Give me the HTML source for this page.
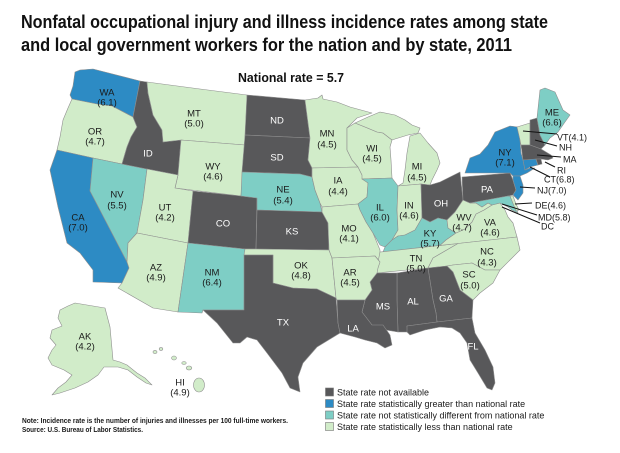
<!DOCTYPE html>
<html><head><meta charset="utf-8"><style>
html,body{margin:0;padding:0;background:#fff;}
svg{display:block;}
.t{font-family:"Liberation Sans",Arial,sans-serif;}
.lb{font-family:"Liberation Sans",Arial,sans-serif;font-size:9.5px;fill:#1a1a1a;text-anchor:middle;}
.lw{font-family:"Liberation Sans",Arial,sans-serif;font-size:9.5px;fill:#fff;text-anchor:middle;}
.co{font-family:"Liberation Sans",Arial,sans-serif;font-size:9px;fill:#1a1a1a;}
.D{fill:#58585a;}
.B{fill:#2d8bc4;}
.T{fill:#7ecec5;}
.L{fill:#d1ecc9;}
.st polygon,.st ellipse{stroke:#8f8f8f;stroke-width:0.6;stroke-linejoin:round;}
</style></head><body>
<svg width="620" height="453" viewBox="0 0 620 453" xmlns="http://www.w3.org/2000/svg">
<rect width="620" height="453" fill="#fff"/>
<text class="t" x="21" y="28" font-size="18" font-weight="bold" fill="#111" textLength="527" lengthAdjust="spacingAndGlyphs">Nonfatal occupational injury and illness incidence rates among state</text>
<text class="t" x="21" y="51" font-size="18" font-weight="bold" fill="#111" textLength="491" lengthAdjust="spacingAndGlyphs">and local government workers for the nation and by state, 2011</text>
<text class="t" x="238" y="82" font-size="13" font-weight="bold" fill="#111" textLength="106" lengthAdjust="spacingAndGlyphs">National rate = 5.7</text>

<g class="st">
<polygon class="B" points="75,72 80,70 93,69 140,81 133,117 112,106 97,104 72,99 70,95 73,86"/>
<polygon class="L" points="72,99 97,104 112,106 133,117 137,127 131,137 127,147 122,164 93,158 57,150 60,137 63,120 68,108"/>
<polygon class="B" points="57,150 93,158 90,191 127,262 129,268 122,283 93,282 93,270 80,253 67,243 63,227 58,207 55,193 50,170"/>
<polygon class="T" points="93,158 122,164 147,169 143,200 137,233 128,243 127,262 90,191"/>
<polygon class="D" points="140,81 147,82 148,93 153,115 162,130 163,142 181,140 178,175 147,169 122,164 127,147 131,137 137,127 133,117"/>
<polygon class="L" points="147,82 200,89 247,95 245,145 181,140 163,142 162,130 153,115 148,93"/>
<polygon class="L" points="181,140 245,145 241,196 175,188 178,175"/>
<polygon class="L" points="147,169 178,175 175,188 193,191 188,243 137,233 143,200"/>
<polygon class="D" points="193,191 241,196 257,198 256,249 245,249 188,243"/>
<polygon class="L" points="137,233 188,243 178,312 153,308 118,288 122,283 129,268 127,262 128,243"/>
<polygon class="T" points="188,243 245,249 244,310 203,310 202,313 178,312"/>
<polygon class="D" points="247,95 305,100 310,138 245,135"/>
<polygon class="D" points="245,135 310,138 308,160 312,168 312,177 300,174 242,172"/>
<polygon class="T" points="242,172 300,174 312,177 315,190 320,203 322,212 257,210 257,198 241,196"/>
<polygon class="D" points="257,210 322,212 328,223 329,250 256,249"/>
<polygon class="L" points="245,249 256,249 329,250 332,258 336,298 317,289 293,288 273,283 273,255 244,255"/>
<polygon class="D" points="244,255 273,255 273,283 293,288 317,289 336,298 338,323 340,333 317,347 303,363 298,377 300,392 290,388 282,373 267,353 257,340 247,337 240,343 233,343 217,323 203,310 244,310"/>
<polygon class="L" points="305,100 318,98 322,95 323,99 337,102 350,107 372,113 357,118 347,128 347,150 352,160 358,167 312,168 308,160 310,138"/>
<polygon class="L" points="312,168 358,167 362,175 368,183 367,197 358,204 322,207 320,203 315,190 312,177"/>
<polygon class="L" points="322,207 358,204 360,210 366,222 373,233 380,250 380,262 375,256 332,258 329,250 328,223 322,212"/>
<polygon class="L" points="347,128 355,123 365,127 377,132 383,133 392,140 390,147 391,160 392,178 362,179 362,175 358,167 352,160 347,150"/>
<polygon class="L" points="355,123 368,117 380,112 395,115 405,120 412,125 420,128 418,133 408,135 395,139 392,140 383,133 377,132 365,127"/>
<polygon class="L" points="410,136 420,133 428,143 437,153 440,163 437,170 432,180 430,185 421,184 398,186 403,183 405,170 407,153"/>
<polygon class="T" points="362,179 392,178 398,186 397,210 398,230 392,240 385,247 380,245 373,233 366,222 360,210 358,204 367,197 368,183"/>
<polygon class="L" points="398,186 421,184 422,218 415,230 405,235 398,236 392,240 398,230 397,210"/>
<polygon class="D" points="421,184 430,185 440,182 450,177 460,172 463,200 455,212 447,220 438,218 430,222 422,218"/>
<polygon class="T" points="383,252 385,247 392,240 398,236 405,235 415,230 422,218 430,222 438,218 447,220 448,228 456,233 446,240 440,245.4"/>
<polygon class="L" points="380,252 440,245.4 458,243.5 433,258 428,268 377,273 378,262"/>
<polygon class="L" points="440,245.4 446,240 456,233 465,229 472,222 476,214 484,210 492,205 500,203 505,210 508,217 513,223 515,230 517,237 458,243.5"/>
<polygon class="L" points="463,200 470,203 476,203 482,207 488,203 492,205 484,210 476,214 472,222 465,229 456,233 448,228 447,220 455,212"/>
<polygon class="D" points="462,177 510,173 513,180 516,190 513,195 508,196 470,203 463,200"/>
<polygon class="B" points="465,173 470,158 480,154 488,145 495,132 510,126 518,127 520,140 521,153 523,160 525,170 530,168 535,168 527,173 520,176 513,176 510,173"/>
<polygon class="B" points="513,176 520,176 523,185 523,193 518,200 513,195 516,190 513,180"/>
<polygon class="T" points="470,203 508,196 512,197 516,208 518,213 512,210 508,207 500,203 492,205 488,203 482,207 476,203"/>
<polygon class="L" points="510,196 513,196 516,204 519,210 516,211"/>
<polygon class="L" points="458,243.5 517,237 520,250 510,260 500,270 485,270 472,263 453,265 447,266 428,268 433,258"/>
<polygon class="L" points="447,266 453,265 472,263 485,270 500,270 493,283 480,293 473,300 460,290 453,272"/>
<polygon class="D" points="428,268 447,266 453,272 460,290 473,300 472,318 437,322 436,313 433,300"/>
<polygon class="D" points="397,273 428,268 433,300 436,313 437,322 407,326 408,332 398,332 397,300"/>
<polygon class="D" points="377,273 397,273 397,300 398,332 386,330 373,331 372,325 362,312 365,300 372,290 370,282"/>
<polygon class="L" points="332,258 375,256 380,262 378,268 377,273 370,282 372,290 365,300 337,300 336,298"/>
<polygon class="D" points="337,300 365,300 362,312 372,325 383,325 390,335 392,345 385,348 377,343 365,340 355,337 340,333 338,323"/>
<polygon class="D" points="407,326 437,322 472,318 475,333 485,350 493,367 495,383 492,390 487,388 478,373 470,360 467,343 460,333 452,328 440,327 425,330 410,335 407,332"/>
<polygon class="L" points="517,127 530,123 530,145 521,145 520,140"/>
<polygon class="D" points="530,120 537,118 540,135 545,145 541,149 530,145 530,123"/>
<polygon class="T" points="537,118 540,90 545,88 555,92 563,110 570,115 565,122 558,132 550,138 545,145 540,135"/>
<polygon class="D" points="521,145 530,145 541,149 546,152 551,155 553,158 548,160 541,159 523,160"/>
<polygon class="B" points="523,160 536,159 538,165 530,167 525,170"/>
<polygon class="D" points="536,159 541,159 542,164 538,165"/>
<polygon class="L" points="75,303 105,308 110,327 113,360 120,362 127,365 137,373 145,378 152,385 146,383 137,377 128,370 118,367 104,367 98,375 88,382 75,388 60,393 52,395 58,388 66,382 72,375 64,370 52,365 48,358 52,350 56,345 50,338 52,330 62,326 58,318 60,310 68,306"/>
<ellipse class="L" cx="155" cy="352" rx="2" ry="1.6"/>
<ellipse class="L" cx="161" cy="349" rx="1.8" ry="1.4"/>
<ellipse class="L" cx="174" cy="358" rx="2.4" ry="2"/>
<ellipse class="L" cx="184" cy="363" rx="2.2" ry="1.5"/>
<ellipse class="L" cx="189" cy="368" rx="2.8" ry="2"/>
<ellipse class="L" cx="199" cy="385" rx="5.5" ry="7"/>
</g>

<g stroke="#111" stroke-width="1">
<line x1="523" y1="131" x2="557" y2="134"/>
<line x1="535" y1="140" x2="557" y2="146"/>
<line x1="537" y1="155" x2="561" y2="157"/>
<line x1="545" y1="162" x2="555" y2="167"/>
<line x1="530" y1="167" x2="550" y2="177"/>
<line x1="520" y1="187" x2="535" y2="188"/>
<line x1="515" y1="204" x2="532" y2="203"/>
<line x1="502" y1="204" x2="537" y2="215"/>
<line x1="502" y1="207" x2="540" y2="223"/>
</g>
<text class="co" x="557" y="140.5">VT(4.1)</text>
<text class="co" x="559" y="150.5">NH</text>
<text class="co" x="563" y="162.5">MA</text>
<text class="co" x="557" y="173.5">RI</text>
<text class="co" x="544" y="182.5">CT(6.8)</text>
<text class="co" x="537" y="193.5">NJ(7.0)</text>
<text class="co" x="535" y="208.5">DE(4.6)</text>
<text class="co" x="538" y="220.5">MD(5.8)</text>
<text class="co" x="541" y="229.5">DC</text>

<text class="lb" x="107" y="95.5">WA</text><text class="lb" x="107" y="105.5">(6.1)</text>
<text class="lb" x="95" y="134.5">OR</text><text class="lb" x="95" y="144.5">(4.7)</text>
<text class="lb" x="194" y="116.5">MT</text><text class="lb" x="194" y="126.5">(5.0)</text>
<text class="lw" x="148" y="156.5">ID</text>
<text class="lb" x="213" y="169.5">WY</text><text class="lb" x="213" y="179.5">(4.6)</text>
<text class="lb" x="117" y="197.5">NV</text><text class="lb" x="117" y="208.5">(5.5)</text>
<text class="lb" x="165" y="210.5">UT</text><text class="lb" x="165" y="220.5">(4.2)</text>
<text class="lw" x="223" y="226.5">CO</text>
<text class="lb" x="78" y="220.5">CA</text><text class="lb" x="78" y="230.5">(7.0)</text>
<text class="lb" x="156" y="270.5">AZ</text><text class="lb" x="156" y="280.5">(4.9)</text>
<text class="lb" x="212" y="275.5">NM</text><text class="lb" x="212" y="285.5">(6.4)</text>
<text class="lb" x="85" y="339.5">AK</text><text class="lb" x="85" y="349.5">(4.2)</text>
<text class="lb" x="180" y="385.5">HI</text><text class="lb" x="180" y="395.5">(4.9)</text>
<text class="lw" x="277" y="123.5">ND</text>
<text class="lw" x="277" y="160.5">SD</text>
<text class="lb" x="283" y="192.5">NE</text><text class="lb" x="283" y="203.5">(5.4)</text>
<text class="lb" x="327" y="136.5">MN</text><text class="lb" x="327" y="147.5">(4.5)</text>
<text class="lb" x="372" y="151.5">WI</text><text class="lb" x="372" y="161.5">(4.5)</text>
<text class="lb" x="338" y="183.5">IA</text><text class="lb" x="338" y="194.5">(4.4)</text>
<text class="lb" x="417" y="169.5">MI</text><text class="lb" x="417" y="180.5">(4.5)</text>
<text class="lb" x="380" y="210.5">IL</text><text class="lb" x="380" y="220.5">(6.0)</text>
<text class="lb" x="409" y="208.5">IN</text><text class="lb" x="409" y="218.5">(4.6)</text>
<text class="lw" x="292" y="234.5">KS</text>
<text class="lb" x="349" y="231.5">MO</text><text class="lb" x="349" y="241.5">(4.1)</text>
<text class="lb" x="301" y="268.5">OK</text><text class="lb" x="301" y="278.5">(4.8)</text>
<text class="lb" x="350" y="275.5">AR</text><text class="lb" x="350" y="285.5">(4.5)</text>
<text class="lw" x="283" y="325.5">TX</text>
<text class="lw" x="353" y="331.5">LA</text>
<text class="lw" x="383" y="309.5">MS</text>
<text class="lw" x="413" y="304.5">AL</text>
<text class="lb" x="416" y="261.5">TN</text><text class="lb" x="416" y="271.5">(5.0)</text>
<text class="lb" x="430" y="236.5">KY</text><text class="lb" x="430" y="246.5">(5.7)</text>
<text class="lw" x="441" y="206.5">OH</text>
<text class="lw" x="487" y="192.5">PA</text>
<text class="lb" x="464" y="220.5">WV</text><text class="lb" x="462" y="230.5">(4.7)</text>
<text class="lb" x="490" y="225.5">VA</text><text class="lb" x="490" y="235.5">(4.6)</text>
<text class="lb" x="487" y="254.5">NC</text><text class="lb" x="487" y="265.5">(4.3)</text>
<text class="lb" x="469" y="277.5">SC</text><text class="lb" x="470" y="288.5">(5.0)</text>
<text class="lw" x="446" y="301.5">GA</text>
<text class="lw" x="473" y="349.5">FL</text>
<text class="lb" x="505" y="155.5">NY</text><text class="lb" x="505" y="165.5">(7.1)</text>
<text class="lb" x="552" y="115.5">ME</text><text class="lb" x="552" y="125.5">(6.6)</text>

<g stroke="#777" stroke-width="0.6">
<rect x="325.5" y="388" width="8" height="8" fill="#58585a"/>
<rect x="325.5" y="399.5" width="8" height="8" fill="#2d8bc4"/>
<rect x="325.5" y="411" width="8" height="8" fill="#7ecec5"/>
<rect x="325.5" y="422.5" width="8" height="8" fill="#d1ecc9"/>
</g>
<text class="t" x="337" y="395.5" font-size="9" fill="#1a1a1a">State rate not available</text>
<text class="t" x="337" y="407" font-size="9" fill="#1a1a1a">State rate statistically greater than national rate</text>
<text class="t" x="337" y="418.5" font-size="9" fill="#1a1a1a">State rate not statistically different from national rate</text>
<text class="t" x="337" y="430" font-size="9" fill="#1a1a1a">State rate statistically less than national rate</text>

<text class="t" x="22" y="423" font-size="7.2" font-weight="bold" fill="#1a1a1a" textLength="266" lengthAdjust="spacingAndGlyphs">Note: Incidence rate is the number of injuries and illnesses per 100 full-time workers.</text>
<text class="t" x="22" y="432" font-size="7.2" font-weight="bold" fill="#1a1a1a" textLength="121" lengthAdjust="spacingAndGlyphs">Source: U.S. Bureau of Labor Statistics.</text>
</svg>
</body></html>
